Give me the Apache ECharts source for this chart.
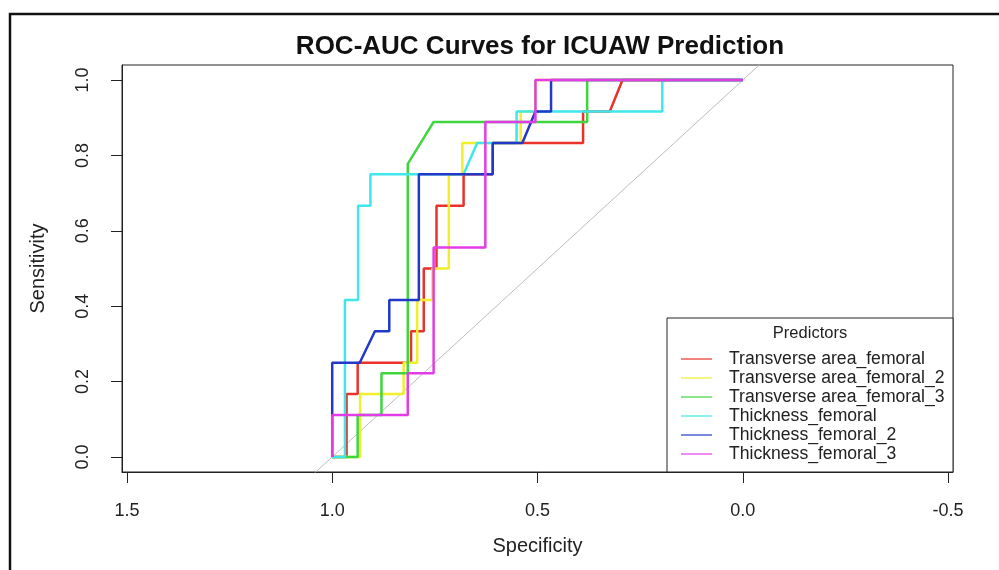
<!DOCTYPE html>
<html>
<head>
<meta charset="utf-8">
<script src="https://cdn.jsdelivr.net/npm/echarts@6/dist/echarts.min.js"></script>
<style>html,body{margin:0;padding:0;background:#fff}#c{width:999px;height:570px}</style>
</head>
<body>
<div id="c"></div>
<script>
// ---- data: [specificity, sensitivity] ----
const seriesNames = ['Transverse area_femoral','Transverse area_femoral_2','Transverse area_femoral_3','Thickness_femoral','Thickness_femoral_2','Thickness_femoral_3'];
const seriesColors = ['#e8322a','#f2ee2e','#3ed63e','#3fe6ea','#2238c8','#e33ce6'];
const transverseArea = [[1,0],[0.965,0],[0.965,0.1667],[0.938,0.1667],[0.938,0.25],[0.808,0.25],[0.808,0.3333],[0.777,0.3333],[0.777,0.5],[0.746,0.5],[0.746,0.6667],[0.680,0.6667],[0.680,0.75],[0.609,0.75],[0.609,0.8333],[0.389,0.8333],[0.389,0.9167],[0.324,0.9167],[0.293,1],[0,1]];
const transverseArea2 = [[1,0],[0.932,0],[0.932,0.1667],[0.826,0.1667],[0.826,0.25],[0.793,0.25],[0.793,0.4167],[0.756,0.4167],[0.756,0.5],[0.716,0.5],[0.716,0.75],[0.683,0.75],[0.683,0.8333],[0.541,0.8333],[0.541,0.9167],[0.505,0.9167],[0.505,1],[0,1]];
const transverseArea3 = [[1,0],[0.938,0],[0.938,0.1111],[0.880,0.1111],[0.880,0.2222],[0.816,0.2222],[0.816,0.7778],[0.753,0.8889],[0.379,0.8889],[0.379,1],[0,1]];
const thickness = [[1,0],[0.969,0],[0.969,0.4167],[0.937,0.4167],[0.937,0.6667],[0.907,0.6667],[0.907,0.75],[0.680,0.75],[0.647,0.8333],[0.551,0.8333],[0.551,0.9167],[0.196,0.9167],[0.196,1],[0,1]];
const thickness2 = [[1,0],[1,0.25],[0.933,0.25],[0.896,0.3333],[0.861,0.3333],[0.861,0.4167],[0.789,0.4167],[0.789,0.75],[0.609,0.75],[0.609,0.8333],[0.537,0.8333],[0.505,0.9167],[0.467,0.9167],[0.467,1],[0,1]];
const thickness3 = [[1,0],[1,0.1111],[0.816,0.1111],[0.816,0.2222],[0.753,0.2222],[0.753,0.5556],[0.627,0.5556],[0.627,0.8889],[0.505,0.8889],[0.505,1],[0,1]];
const diagonal = [[1.1,-0.1],[-0.1,1.1]];
const xTicks = [1.5,1.0,0.5,0.0,-0.5];
const yTicks = [0,0.2,0.4,0.6,0.8,1.0];
const allData = [transverseArea, transverseArea2, transverseArea3, thickness, thickness2, thickness3];

const FONT = 'Liberation Sans, Arial, Helvetica, sans-serif';
const chart = echarts.init(document.getElementById('c'), null, {renderer:'canvas'});

const series = [{
  name: 'diag', type: 'line', data: diagonal, showSymbol: false, symbol: 'none',
  lineStyle: {color: '#bdbdbd', width: 1}, silent: true, z: 1, clip: true
}];
allData.forEach((d, i) => {
  series.push({
    name: seriesNames[i], type: 'line', data: d, showSymbol: false, symbol: 'none',
    lineStyle: {color: seriesColors[i], width: 2.5}, itemStyle: {color: seriesColors[i]},
    z: 2, clip: true
  });
});

chart.setOption({
  animation: false,
  backgroundColor: '#fff',
  title: {
    text: 'ROC-AUC Curves for ICUAW Prediction', left: 535, top: 29, textAlign: 'center',
    textStyle: {fontSize: 26, fontWeight: 'bold', color: '#111', fontFamily: FONT}
  },
  grid: {left: 122, right: 46, top: 65, bottom: 98, show: true, borderColor: '#222', borderWidth: 1, backgroundColor: 'transparent'},
  xAxis: {
    type: 'value', inverse: true, min: -0.512, max: 1.512,
    name: 'Specificity', nameLocation: 'middle', nameGap: 64,
    nameTextStyle: {fontSize: 20, color: '#222', fontFamily: FONT},
    axisLine: {show: true, onZero: false, lineStyle: {color: '#222', width: 1}},
    axisTick: {show: true, length: 11, customValues: xTicks, lineStyle: {color: '#222'}},
    axisLabel: {customValues: xTicks, fontSize: 18, margin: 30, color: '#222', fontFamily: FONT,
      formatter: v => v.toFixed(1)},
    splitLine: {show: false}
  },
  yAxis: {
    type: 'value', min: -0.04, max: 1.04,
    name: 'Sensitivity', nameLocation: 'middle', nameGap: 74, nameRotate: 90,
    nameTextStyle: {fontSize: 20, color: '#222', fontFamily: FONT},
    axisLine: {show: true, onZero: false, lineStyle: {color: '#222', width: 1}},
    axisTick: {show: true, length: 11, customValues: yTicks, lineStyle: {color: '#222'}},
    axisLabel: {customValues: yTicks, rotate: 90, fontSize: 18, margin: 30, color: '#222', fontFamily: FONT,
      formatter: v => v.toFixed(1)},
    splitLine: {show: false}
  },
  legend: {
    data: seriesNames, orient: 'vertical', left: 681, top: 350, padding: 0,
    icon: 'rect', itemWidth: 31, itemHeight: 2, itemGap: 1, z: 10,
    itemStyle: {opacity: 0.6},
    textStyle: {fontSize: 17.6, lineHeight: 17, color: '#222', fontFamily: FONT, padding: [0,0,0,12]}
  },
  graphic: [
    {type: 'rect', z: 100, silent: true, shape: {x: 10, y: 14, width: 1010, height: 600},
      style: {fill: 'none', stroke: '#111', lineWidth: 2.5}},
    {type: 'rect', z: 5, silent: true, shape: {x: 667, y: 318, width: 286, height: 154},
      style: {fill: '#fff', stroke: '#222', lineWidth: 1}},
    {type: 'text', z: 10, silent: true, x: 810, y: 333,
      style: {text: 'Predictors', fontSize: 16.5, fill: '#222', fontFamily: FONT, align: 'center', verticalAlign: 'middle'}}
  ],
  series: series
});
</script>
</body>
</html>
